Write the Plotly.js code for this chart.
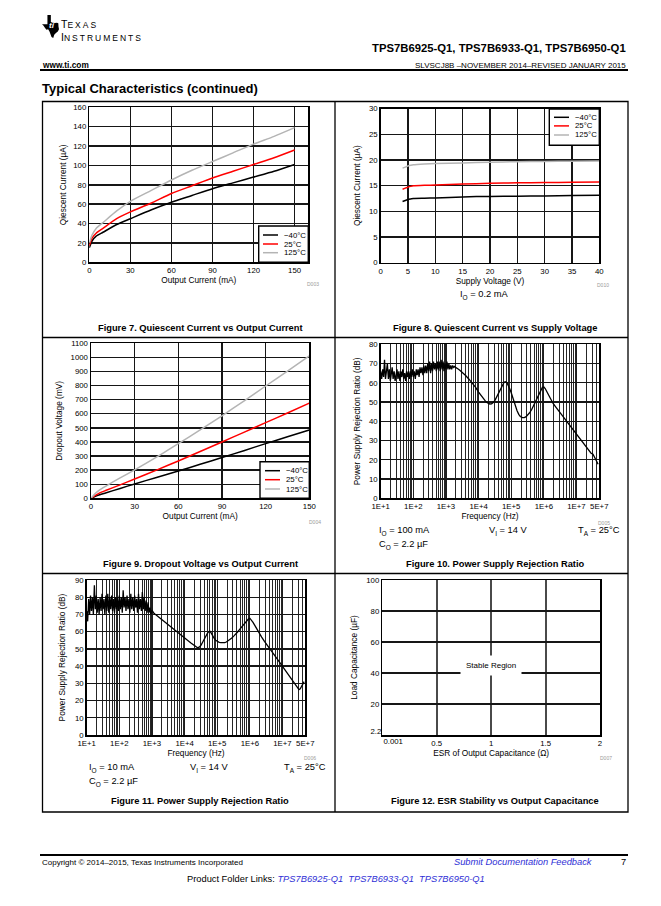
<!DOCTYPE html>
<html><head><meta charset="utf-8">
<script src="https://cdn.plot.ly/plotly-3.0.1.min.js"></script>
<style>html,body{margin:0;padding:0;background:#fff}#chart{width:661px;height:906px}</style>
</head><body><div id="chart"></div>
<script>
// ================= DATA =================
const tempLabels = ['\u221240\u00B0C', '25\u00B0C', '125\u00B0C'];

// Figure 7: Quiescent current vs output current
const fig7OutputCurrent_mA = [0, 2, 5, 10, 20, 30, 45, 60, 75, 90, 105, 120, 135, 150];
const fig7Iq_m40 = [15, 22, 27, 31, 39, 45, 54, 62, 69, 76, 82, 88, 94, 101];
const fig7Iq_25  = [17, 25, 30, 35, 45, 52, 61, 71, 79, 87, 94, 101, 108, 116];
const fig7Iq_125 = [20, 28, 35, 41, 53, 63, 74, 85, 95, 104, 113, 122, 130, 139];
const fig7XTicks = [0, 30, 60, 90, 120, 150];
const fig7YTicks = [0, 20, 40, 60, 80, 100, 120, 140, 160];

// Figure 8: Quiescent current vs supply voltage
const fig8SupplyVoltage_V = [4, 4.5, 5, 5.5, 6, 8, 10, 15, 20, 25, 30, 35, 40];
const fig8Iq_m40 = [11.9, 12.1, 12.3, 12.4, 12.5, 12.55, 12.6, 12.8, 12.9, 12.95, 13.0, 13.05, 13.1];
const fig8Iq_25  = [14.3, 14.5, 14.7, 14.85, 14.95, 15.05, 15.1, 15.3, 15.45, 15.55, 15.6, 15.65, 15.7];
const fig8Iq_125 = [18.4, 18.6, 18.8, 18.95, 19.05, 19.2, 19.3, 19.4, 19.55, 19.65, 19.7, 19.75, 19.8];
const fig8XTicks = [0, 5, 10, 15, 20, 25, 30, 35, 40];
const fig8YTicks = [0, 5, 10, 15, 20, 25, 30];

// Figure 9: Dropout voltage vs output current
const fig9OutputCurrent_mA = [0, 3, 6, 10, 20, 30, 45, 60, 75, 90, 105, 120, 135, 150];
const fig9Vdo_m40 = [0, 14, 25, 38, 70, 102, 148, 194, 241, 289, 338, 388, 437, 485];
const fig9Vdo_25  = [0, 20, 38, 55, 95, 137, 200, 265, 332, 400, 468, 537, 605, 675];
const fig9Vdo_125 = [0, 35, 60, 85, 145, 202, 292, 388, 485, 585, 690, 797, 903, 1010];
const fig9XTicks = [0, 30, 60, 90, 120, 150];
const fig9YTicks = [0, 100, 200, 300, 400, 500, 600, 700, 800, 900, 1000, 1100];

// Figures 10 & 11: PSRR vs frequency
const psrrFreq_Hz = [
  10, 10.7, 11.5, 12.3, 13.1, 14, 15, 16, 17.2, 18.4,
  19.7, 21, 22.5, 24, 25.8, 27.6, 29.5, 31.6, 33.8, 36,
  38.7, 41.4, 44.3, 47.4, 50.7, 54.3, 58, 62, 66.5, 71,
  76, 81.4, 87, 93, 100, 107, 115, 123, 131, 140,
  150, 160, 172, 184, 197, 210, 225, 240, 258, 276,
  295, 316, 338, 360, 387, 414, 443, 474, 507, 543,
  580, 620, 665, 710, 760, 814, 870, 930, 1000, 1070,
  1150, 1230, 1310, 1400, 1500, 1600, 1720, 1840, 1970, 2100,
  2300, 2600, 3000, 3500, 4000, 5000, 6000, 7000, 8000, 10000,
  12000, 14000, 16000, 18000, 20000, 22000, 25000, 28000, 32000, 36000,
  40000, 45000, 50000, 55000, 60000, 65000, 70000, 75000, 80000, 90000,
  100000, 115000, 130000, 150000, 170000, 190000, 220000, 250000, 280000, 320000,
  360000, 420000, 480000, 550000, 620000, 700000, 800000, 900000, 1000000, 1100000,
  1250000, 1400000, 1600000, 1900000, 2300000, 2800000, 3500000, 4500000, 6000000, 8000000,
  1e7, 1.3e7, 1.6e7, 2e7, 2.5e7, 2.8e7, 3.2e7, 3.5e7, 3.9e7, 4.3e7,
  4.6e7];
const psrr_100mA_dB = [
  66, 62, 67, 63, 72, 62, 66, 70, 62, 67,
  61, 65, 68, 62, 66, 61, 65, 67, 62, 66,
  61, 66, 63, 67, 62, 65, 61, 66, 63, 66,
  62, 66, 63, 67, 63, 66, 62, 67, 64, 67,
  63, 68, 65, 68, 64, 69, 65, 69, 65, 70,
  66, 71, 65, 70, 66, 71, 67, 70, 66, 71,
  67, 71, 66, 72, 67, 71, 66, 70, 67, 71,
  67, 70, 67, 69, 67, 69, 68, 68.5, 68, 67.8,
  67.3, 66.6, 65.8, 64.8, 63.8, 62, 60.4, 59, 57.8, 55.2,
  53.3, 51.8, 50.6, 49.8, 49.3, 49, 49.1, 49.7, 51, 52.8,
  54.5, 56.3, 58, 59.3, 60.2, 60.6, 60.4, 59.8, 58.9, 56.9,
  54.8, 51.3, 48.3, 45.6, 43.6, 42.5, 41.9, 41.9, 42.3, 43.2,
  44.3, 46, 48, 50.2, 52.3, 54.5, 56.3, 57.6, 57.8, 57,
  55.2, 53.5, 51.7, 49.4, 47.5, 45.6, 43.4, 41, 38.2, 35.4,
  33.2, 30.6, 28.6, 26.4, 24.2, 23.4, 22.9, 21.5, 19.9, 18.8,
  17.7];
const psrr_10mA_dB = [
  72, 66, 79, 70, 81, 72, 80, 70, 87, 73,
  81, 71, 79, 70, 80, 72, 82, 73, 79, 70,
  81, 72, 82, 71, 80, 73, 81, 72, 79, 71,
  80, 73, 80, 72, 81, 73, 80, 71, 84, 74,
  80, 72, 81, 73, 79, 71, 82, 73, 80, 72,
  81, 74, 79, 71, 82, 73, 79, 72, 83, 73,
  80, 72, 78, 71, 77, 71, 74, 70, 72.5, 71.4,
  70.7, 70.2, 69.8, 69.4, 68.9, 68.5, 68, 67.6, 67.1, 66.7,
  66.1, 65.3, 64.3, 63.3, 62.4, 61, 59.8, 58.8, 57.9, 56.4,
  55.2, 54.2, 53.3, 52.5, 51.8, 51.2, 50.6, 51, 52.2, 54,
  55.8, 57.6, 59, 60, 60.2, 59.3, 58, 57, 56.2, 55,
  54.3, 53.8, 53.6, 53.5, 53.6, 54, 54.7, 55.5, 56.3, 57.4,
  58.3, 59.8, 61.2, 62.6, 63.8, 65, 66.3, 67.3, 67.8, 67,
  65.4, 63.8, 61.7, 59.2, 56.8, 54.4, 51.7, 48.6, 45.5, 42.4,
  39.9, 36.8, 34.4, 32, 29.4, 28, 26.3, 26.8, 28.4, 29.8,
  31];
const psrrXTickVals = [10, 100, 1000, 10000, 100000, 1000000, 10000000, 50000000];
const psrrXTickText = ['1E+1', '1E+2', '1E+3', '1E+4', '1E+5', '1E+6', '1E+7', '5E+7'];
const fig10YTicks = [0, 10, 20, 30, 40, 50, 60, 70, 80];
const fig11YTicks = [0, 10, 20, 30, 40, 50, 60, 70, 80, 90];

// Figure 12: ESR stability
const fig12XTickVals = [0.5, 1, 1.5, 2];
const fig12XTickText = ['0.5', '1', '1.5', '2'];
const fig12XFirstTickVal = [0.1];
const fig12XFirstTickText = ['0.001'];
const fig12YTickVals = [20, 40, 60, 80, 100];
const fig12YLowTickVal = [2.2];
const fig12YLowTickText = ['2.2'];
const fig12RegionLabel = 'Stable Region';

// ================= STYLE / LAYOUT =================
const W = 661, H = 906;
const FONT = '"Liberation Sans", Arial, Helvetica, sans-serif';
const tempColors = ['#000000', '#ff0000', '#b4b4b4'];
const LINK = '#2f2fd6';
const px = x => x / W;
const py = y => 1 - y / H;
const domX = (a, b) => [a / W, b / W];
const domY = (t, b) => [1 - b / H, 1 - t / H];

const A = {
  f7:  {l: 89.3,  r: 308.3, t: 107.3, b: 262.3},
  f8:  {l: 380.7, r: 599.3, t: 108.5, b: 262.7},
  f9:  {l: 91,    r: 309.3, t: 343.3, b: 498.3},
  f10: {l: 380.7, r: 599.3, t: 344.3, b: 498.3},
  f11: {l: 86.7,  r: 305.3, t: 580,   b: 735},
  f12: {l: 382.3, r: 600,   t: 580,   b: 735}
};

const tickFont = {family: FONT, size: 7.8, color: '#000'};
const titleFont = {family: FONT, size: 8.3, color: '#000'};

function ax(extra) {
  return Object.assign({
    showline: true, mirror: true, linecolor: '#000', linewidth: 1.5,
    showgrid: true, gridcolor: '#161616', gridwidth: 1.4,
    zeroline: false, ticks: '', tickfont: tickFont, fixedrange: true,
    tickmode: 'array'
  }, extra);
}
function ttl(text, standoff) { return {text: text, font: titleFont, standoff: standoff}; }

// log-axis minor grid positions (2..9 in each decade, up to right edge)
const logMinor = [];
for (let e = 1; e <= 7; e++) for (let m = 2; m <= 9; m++) { const v = m * Math.pow(10, e); if (v < 5e7) logMinor.push(v); }
const logRange = [1, Math.log10(5e7)];

function logX(dom, anchor) {
  return ax({
    type: 'log', domain: dom, anchor: anchor, range: logRange,
    tickvals: psrrXTickVals, ticktext: psrrXTickText,
    gridcolor: '#1e1e1e', gridwidth: 1.1,
    minor: {tickmode: 'array', tickvals: logMinor, showgrid: true, gridcolor: '#262626', gridwidth: 1, ticks: ''},
    title: ttl('Frequency (Hz)', 2)
  });
}

const layout = {
  width: W, height: H, margin: {l: 0, r: 0, t: 0, b: 0},
  paper_bgcolor: '#fff', plot_bgcolor: '#fff', showlegend: false,
  hovermode: false, dragmode: false, font: {family: FONT, color: '#000', size: 8},
  xaxis: ax({domain: domX(A.f7.l, A.f7.r), anchor: 'y', range: [0, 160], tickvals: fig7XTicks, title: ttl('Output Current (mA)', 2)}),
  yaxis: ax({domain: domY(A.f7.t, A.f7.b), anchor: 'x', range: [0, 160], tickvals: fig7YTicks, title: ttl('Qiescent Current (\u00B5A)', 5)}),
  xaxis2: ax({domain: domX(A.f8.l, A.f8.r), anchor: 'y2', range: [0, 40], tickvals: fig8XTicks, title: ttl('Supply Voltage (V)', 2)}),
  yaxis2: ax({domain: domY(A.f8.t, A.f8.b), anchor: 'x2', range: [0, 30], tickvals: fig8YTicks, title: ttl('Qiescent Current (\u00B5A)', 7)}),
  xaxis3: ax({domain: domX(A.f9.l, A.f9.r), anchor: 'y3', range: [0, 150], tickvals: fig9XTicks, title: ttl('Output Current (mA)', 2)}),
  yaxis3: ax({domain: domY(A.f9.t, A.f9.b), anchor: 'x3', range: [0, 1100], tickvals: fig9YTicks, title: ttl('Dropout Voltage (mV)', 6)}),
  xaxis4: logX(domX(A.f10.l, A.f10.r), 'y4'),
  yaxis4: ax({domain: domY(A.f10.t, A.f10.b), anchor: 'x4', range: [0, 80], tickvals: fig10YTicks, title: ttl('Power Supply Rejection Ratio (dB)', 7)}),
  xaxis5: logX(domX(A.f11.l, A.f11.r), 'y5'),
  yaxis5: ax({domain: domY(A.f11.t, A.f11.b), anchor: 'x5', range: [0, 90], tickvals: fig11YTicks, title: ttl('Power Supply Rejection Ratio (dB)', 8)}),
  xaxis6: ax({domain: domX(A.f12.l, A.f12.r), anchor: 'y6', range: [0, 2], tickvals: fig12XTickVals, ticktext: fig12XTickText,
              gridcolor: '#4a4a4a', gridwidth: 2, title: ttl('ESR of Output Capacitance (\u03A9)', 2)}),
  yaxis6: ax({domain: domY(A.f12.t, A.f12.b), anchor: 'x6', range: [0, 100], tickvals: fig12YTickVals, title: ttl('Load Capacitance (\u00B5F)', 7)}),
  xaxis7: ax({overlaying: 'x6', anchor: 'y6', range: [0, 2], tickvals: fig12XFirstTickVal, ticktext: fig12XFirstTickText,
              showgrid: false, showline: false, mirror: false}),
  yaxis7: ax({overlaying: 'y6', anchor: 'x6', range: [0, 100], tickvals: fig12YLowTickVal, ticktext: fig12YLowTickText,
              showgrid: false, showline: false, mirror: false}),
  shapes: [], annotations: []
};

// ---- traces ----
const traces = [];
function addLines(xs, ysList, xa, ya, shape) {
  ysList.forEach((ys, i) => traces.push({
    type: 'scatter', mode: 'lines', x: xs, y: ys, xaxis: xa, yaxis: ya, name: tempLabels[i],
    line: {color: tempColors[i], width: 1.5, shape: shape, smoothing: 0.6}, hoverinfo: 'skip', showlegend: false
  }));
}
addLines(fig7OutputCurrent_mA, [fig7Iq_m40, fig7Iq_25, fig7Iq_125], 'x', 'y', 'spline');
addLines(fig8SupplyVoltage_V, [fig8Iq_m40, fig8Iq_25, fig8Iq_125], 'x2', 'y2', 'spline');
addLines(fig9OutputCurrent_mA, [fig9Vdo_m40, fig9Vdo_25, fig9Vdo_125], 'x3', 'y3', 'spline');
traces.push({type: 'scatter', mode: 'lines', x: psrrFreq_Hz, y: psrr_100mA_dB, xaxis: 'x4', yaxis: 'y4',
  line: {color: '#000', width: 1.3}, hoverinfo: 'skip', showlegend: false});
traces.push({type: 'scatter', mode: 'lines', x: psrrFreq_Hz, y: psrr_10mA_dB, xaxis: 'x5', yaxis: 'y5',
  line: {color: '#000', width: 1.3}, hoverinfo: 'skip', showlegend: false});
traces.push({type: 'scatter', mode: 'lines', x: [], y: [], xaxis: 'x6', yaxis: 'y6', showlegend: false});
traces.push({type: 'scatter', mode: 'lines', x: [], y: [], xaxis: 'x7', yaxis: 'y6', showlegend: false});
traces.push({type: 'scatter', mode: 'lines', x: [], y: [], xaxis: 'x6', yaxis: 'y7', showlegend: false});

// ---- helpers for paper shapes / text ----
const S = layout.shapes, N = layout.annotations;
function seg(x0, y0, x1, y1, w, c) {
  S.push({type: 'line', xref: 'paper', yref: 'paper', x0: px(x0), y0: py(y0), x1: px(x1), y1: py(y1), line: {color: c || '#000', width: w}});
}
function box(x0, y0, x1, y1, w, fill) {
  S.push({type: 'rect', xref: 'paper', yref: 'paper', x0: px(x0), y0: py(y1), x1: px(x1), y1: py(y0),
    line: {color: '#000', width: w}, fillcolor: fill || 'rgba(0,0,0,0)'});
}
function txt(text, x, y, size, anchor, extra) {
  N.push(Object.assign({text: text, xref: 'paper', yref: 'paper', x: px(x), y: py(y), xanchor: anchor || 'left', yanchor: 'middle',
    showarrow: false, font: {family: FONT, size: size, color: '#000'}}, extra || {}));
}
// subscript rendered as a smaller, lowered span
const sub = s => '<span style="font-size:6.5px;baseline-shift:-2.5px">' + s + '</span>';

// ---- page frame ----
seg(40, 70, 628, 70, 2.2);
box(42.5, 101.5, 628, 812, 1.3);
seg(335, 101.5, 335, 812, 1.3);
seg(42.5, 337.5, 628, 337.5, 1.3);
seg(42.5, 573.5, 628, 573.5, 1.3);
seg(40, 855, 628, 855, 2.2);

// ---- TI logo ----
const texas = [[0.32,0],[0.52,0],[0.52,0.30],[0.62,0.34],[0.75,0.35],[0.88,0.34],[0.96,0.36],[0.97,0.50],[1.0,0.62],
  [0.93,0.72],[0.82,0.78],[0.72,0.86],[0.66,1.0],[0.56,0.96],[0.50,0.84],[0.44,0.72],[0.36,0.62],[0.26,0.64],
  [0.18,0.56],[0.08,0.46],[0.0,0.40],[0.32,0.40]];
S.push({type: 'path', xref: 'paper', yref: 'paper', fillcolor: '#000', line: {width: 0},
  path: 'M' + texas.map(p => px(42 + p[0] * 17) + ',' + py(15 + p[1] * 23)).join(' L') + ' Z'});
txt('<b><i>ti</i></b>', 51.5, 25, 8, 'center', {font: {family: FONT, size: 8, color: '#fff'}, borderpad: 0});
txt('<span style="font-size:10.5px">T</span><span style="letter-spacing:2px">EXAS</span>', 59.5, 24, 8.5, 'left', {borderpad: 0});
txt('<span style="font-size:10.5px">I</span><span style="letter-spacing:2px">NSTRUMENTS</span>', 59.5, 36.5, 8.5, 'left', {borderpad: 0});

// ---- header / footer text ----
txt('<b>TPS7B6925-Q1, TPS7B6933-Q1, TPS7B6950-Q1</b>', 628, 48, 11.3, 'right');
txt('<b>www.ti.com</b>', 40, 65.5, 8.3, 'left');
txt('SLVSCJ8B \u2013NOVEMBER 2014\u2013REVISED JANUARY 2015', 628, 65.5, 8, 'right');
txt('<b>Typical Characteristics (continued)</b>', 40, 89, 13, 'left');
txt('Copyright \u00A9 2014\u20132015, Texas Instruments Incorporated', 40, 862, 8, 'left');
txt('<i>Submit Documentation Feedback</i>', 595, 862, 9.3, 'right', {font: {family: FONT, size: 9.3, color: LINK}});
txt('7', 628, 862, 9.3, 'right');
txt('Product Folder Links: <span style="color:' + LINK + '"><i>TPS7B6925-Q1</i>\u00A0\u00A0<i>TPS7B6933-Q1</i>\u00A0\u00A0<i>TPS7B6950-Q1</i></span>', 336, 879, 9.3, 'center');

// ---- captions ----
txt('<b>Figure 7. Quiescent Current vs Output Current</b>', 201, 328, 9.3, 'center');
txt('<b>Figure 8. Quiescent Current vs Supply Voltage</b>', 494.5, 328, 9.3, 'center');
txt('<b>Figure 9. Dropout Voltage vs Output Current</b>', 200, 564, 9.3, 'center');
txt('<b>Figure 10. Power Supply Rejection Ratio</b>', 495, 564, 9.3, 'center');
txt('<b>Figure 11. Power Supply Rejection Ratio</b>', 200, 801, 9.3, 'center');
txt('<b>Figure 12. ESR Stability vs Output Capacitance</b>', 495, 801, 9.3, 'center');

// ---- small doc codes ----
const codeFont = {family: FONT, size: 5, color: '#9a9a9a'};
[['D003', 313, 283.5], ['D010', 603, 284.5], ['D004', 315, 522], ['D005', 604, 522.5], ['D006', 310, 757.5], ['D007', 606, 758]]
  .forEach(c => txt(c[0], c[1], c[2], 5, 'center', {font: codeFont}));

// ---- conditions ----
txt('I' + sub('O') + ' = 0.2 mA', 484, 295, 9.3, 'center');
txt('I' + sub('O') + ' = 100 mA', 377, 531, 9.3, 'left');
txt('C' + sub('O') + ' = 2.2 \u00B5F', 377, 545, 9.3, 'left');
txt('V' + sub('I') + ' = 14 V', 487, 531, 9.3, 'left');
txt('T' + sub('A') + ' = 25\u00B0C', 622, 531, 9.3, 'right');
txt('I' + sub('O') + ' = 10 mA', 87, 768, 9.3, 'left');
txt('C' + sub('O') + ' = 2.2 \u00B5F', 87, 782, 9.3, 'left');
txt('V' + sub('I') + ' = 14 V', 188, 768, 9.3, 'left');
txt('T' + sub('A') + ' = 25\u00B0C', 328, 768, 9.3, 'right');

// ---- legends (drawn from tempLabels / tempColors) ----
function legend(bx0, by0, bx1, by1, rows, sx0, sx1, tx) {
  box(bx0, by0, bx1, by1, 1.4, '#fff');
  tempLabels.forEach((lab, i) => {
    seg(sx0, rows[i], sx1, rows[i], 1.5, tempColors[i]);
    txt(lab, tx, rows[i], 7.8, 'left');
  });
}
legend(258.7, 226, 308.3, 262.3, [235, 244, 252.7], 263, 278, 282);
legend(549.3, 109, 599.3, 145.3, [117.3, 125.9, 135], 554, 569, 572.5);
legend(260, 461.7, 309.3, 498.3, [470.7, 479.7, 489], 265, 280, 284);

// ---- Fig 12 region label ----
N.push({text: fig12RegionLabel, xref: 'x6', yref: 'y6', x: 1, y: 45, showarrow: false, bgcolor: '#fff', borderpad: 5,
  font: {family: FONT, size: 8, color: '#000'}});

Plotly.newPlot('chart', traces, layout, {staticPlot: true, displayModeBar: false});
</script>
</body></html>
